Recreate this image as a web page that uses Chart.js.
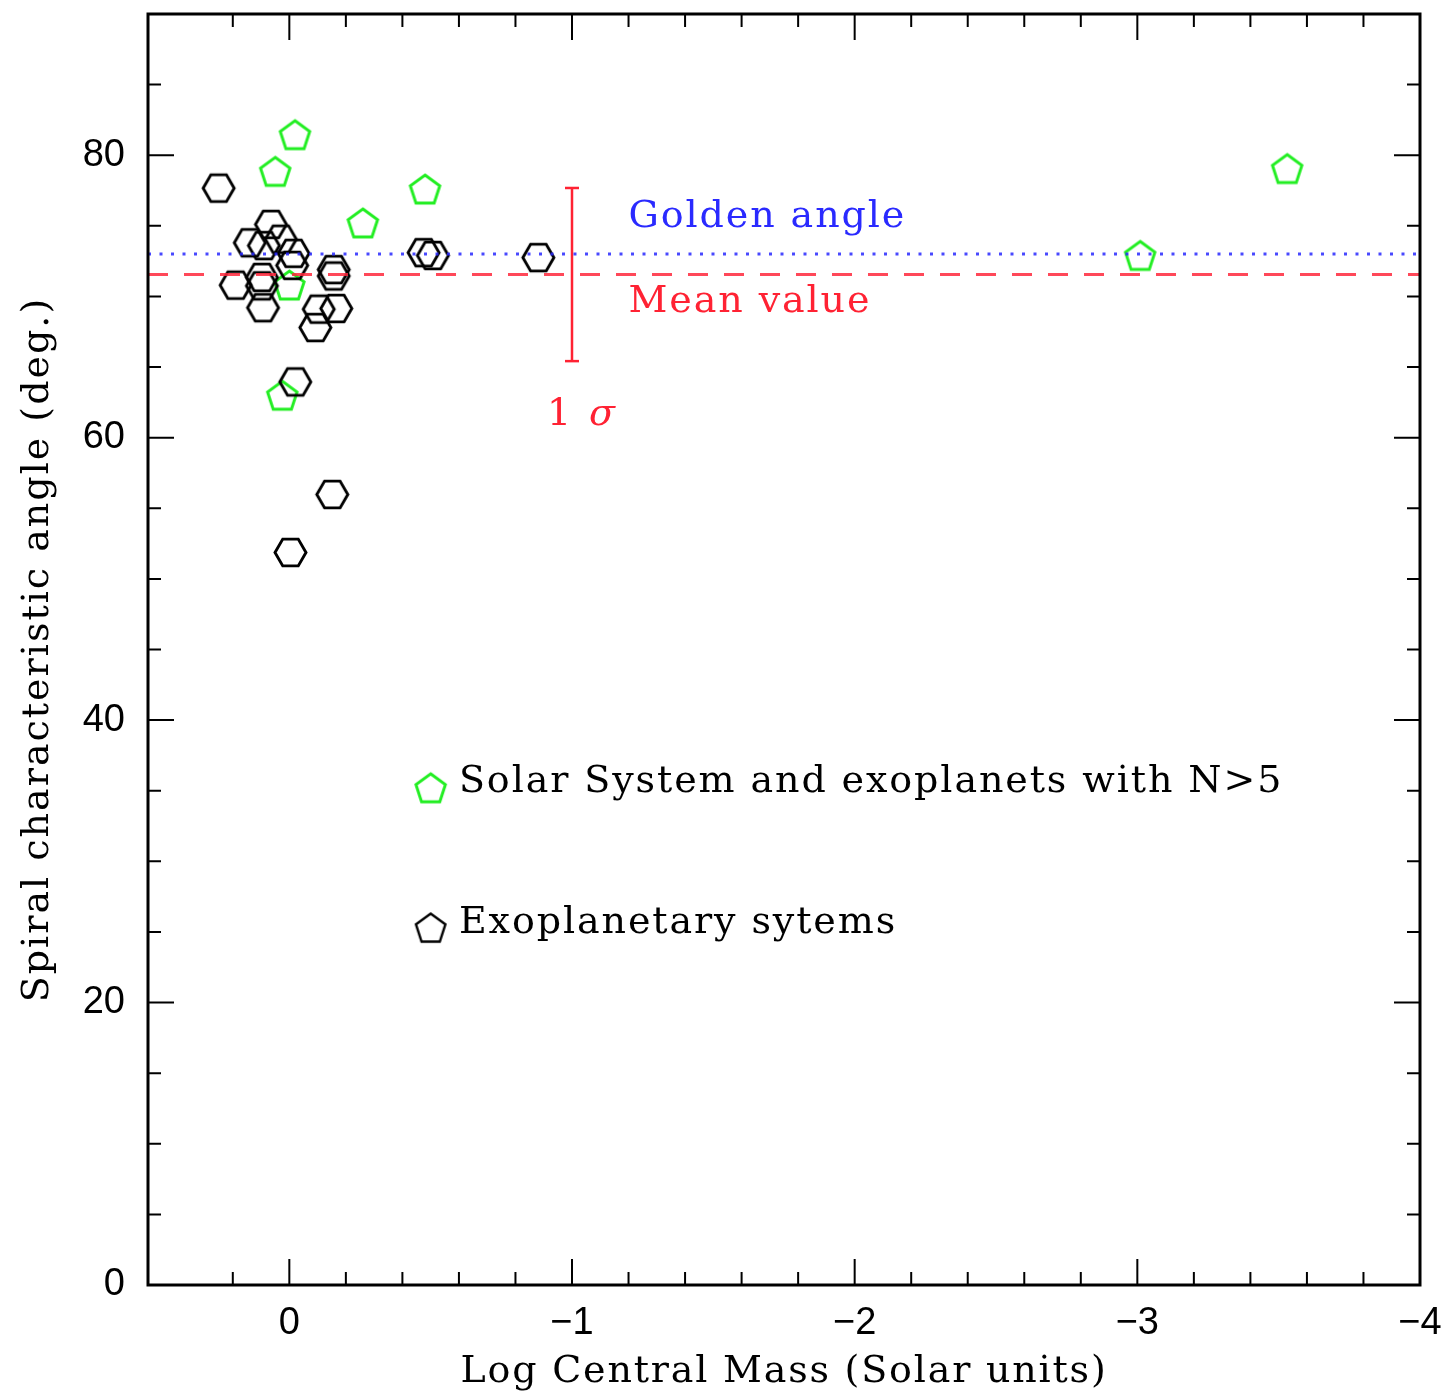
<!DOCTYPE html>
<html>
<head>
<meta charset="utf-8">
<title>Spiral characteristic angle vs central mass</title>
<script src="https://cdn.jsdelivr.net/npm/chart.js@4.4.1/dist/chart.umd.min.js"></script>
<style>
  html, body { margin: 0; padding: 0; background: #fff; }
</style>
</head>
<body>
<canvas id="spiralChart" width="1452" height="1398"></canvas>
<script>
// values (log central mass, spiral angle in degrees)
const solarX = [-0.02, 0.05, -0.48, -0.26, 0.0, 0.025, -3.01, -3.53];
const solarY = [81.35, 78.75, 77.5, 75.1, 70.7, 62.9, 72.8, 78.95];

const exoX = [0.25, 0.065, 0.14, 0.09, 0.03, -0.015, -0.01, -0.157, -0.157, 0.19, 0.097, 0.097,
  0.093, -0.104, -0.166, -0.092, -0.021, -0.475, -0.508, -0.881, -0.152, -0.004];
const exoY = [77.67, 75.1, 73.8, 73.6, 74.05, 73.05, 72.2, 71.9, 71.45, 70.8, 71.35, 70.75,
  69.2, 69.1, 69.15, 67.8, 63.95, 73.1, 72.9, 72.75, 55.98, 51.87];

const goldenAngle = 73.0;
const meanAngle = 71.55;
const sigmaAngle = 6.13;
const sigmaX = -1;

const keyX = [-0.5, -0.5];
const keyY = [35.1, 25.2];

const xRange = [-4, 0.5];
const yRange = [0, 90];
const xMajorTicks = [0, -1, -2, -3, -4];
const yMajorTicks = [0, 20, 40, 60, 80];

const xTitle = 'Log Central Mass (Solar units)';
const yTitle = 'Spiral characteristic angle (deg.)';

const serif = '"DejaVu Serif", "Liberation Serif", serif';
const sans = '"Liberation Sans", Arial, sans-serif';

function makeMarker(sides, radius, color, lw, rot) {
  const size = Math.ceil(radius * 2 + lw * 2 + 2);
  const c = document.createElement('canvas');
  c.width = size; c.height = size;
  const g = c.getContext('2d');
  g.strokeStyle = color; g.lineWidth = lw; g.lineJoin = 'miter';
  g.beginPath();
  for (let i = 0; i < sides; i++) {
    const a = rot + i * 2 * Math.PI / sides;
    const px = size / 2 + radius * Math.cos(a), py = size / 2 + radius * Math.sin(a);
    if (i) g.lineTo(px, py); else g.moveTo(px, py);
  }
  g.closePath(); g.stroke();
  return c;
}

const hexMark = makeMarker(6, 15.5, '#000', 2.9, 0);
const pentGreen = makeMarker(5, 15.5, '#22ee22', 2.9, -Math.PI / 2);
const pentBlack = makeMarker(5, 15.5, '#000', 2.4, -Math.PI / 2);

const toPts = (xs, ys) => xs.map((x, i) => ({ x, y: ys[i] }));

// text placed on the plot, in data coordinates
const notes = [
  { text: 'Golden angle', x: -1.2, y: 75.85, color: '#2a2aff' },
  { text: 'Mean value', x: -1.2, y: 69.8, color: '#ff2233' },
  { text: 'Solar System and exoplanets with N>5', x: -0.6, y: 35.85, color: '#000' },
  { text: 'Exoplanetary sytems', x: -0.6, y: 25.85, color: '#000' }
];

const isMajor = (v, list) => list.some(t => Math.abs(t - v) < 1e-6);
const fmt = v => (v < 0 ? '\u2212' + Math.abs(v) : String(v));

const frameTicks = {
  id: 'frameTicks',
  afterDatasetsDraw(chart) {
    const { ctx, chartArea: a, scales: { x, y } } = chart;
    ctx.save();
    ctx.strokeStyle = '#000';
    ctx.lineWidth = 2;
    ctx.beginPath();
    x.ticks.forEach(t => {
      if (Math.abs(t.value * 5 - Math.round(t.value * 5)) > 1e-6) return;
      const px = x.getPixelForValue(t.value);
      const len = isMajor(t.value, xMajorTicks) ? 26 : 13;
      ctx.moveTo(px, a.bottom); ctx.lineTo(px, a.bottom - len);
      ctx.moveTo(px, a.top); ctx.lineTo(px, a.top + len);
    });
    y.ticks.forEach(t => {
      const py = y.getPixelForValue(t.value);
      const len = isMajor(t.value, yMajorTicks) ? 26 : 13;
      ctx.moveTo(a.left, py); ctx.lineTo(a.left + len, py);
      ctx.moveTo(a.right, py); ctx.lineTo(a.right - len, py);
    });
    ctx.stroke();
    ctx.lineWidth = 3;
    ctx.strokeRect(a.left, a.top, a.right - a.left, a.bottom - a.top);

    // annotations
    ctx.textBaseline = 'middle';
    ctx.textAlign = 'left';
    ctx.letterSpacing = '1.9px';
    ctx.font = '38px ' + serif;
    notes.forEach(n => {
      ctx.fillStyle = n.color;
      ctx.fillText(n.text, x.getPixelForValue(n.x), y.getPixelForValue(n.y) + 3);
    });
    const sx = x.getPixelForValue(sigmaX);
    const sy = y.getPixelForValue(meanAngle - sigmaAngle) + 54;
    ctx.fillStyle = '#ff2233';
    ctx.fillText('1', sx - 25, sy);
    ctx.font = 'italic 38px ' + serif;
    ctx.fillText('\u03c3', sx + 17, sy);

    // axis titles
    ctx.fillStyle = '#000';
    ctx.font = '38px ' + serif;
    ctx.letterSpacing = '1.8px';
    ctx.textAlign = 'center';
    ctx.fillText(xTitle, (a.left + a.right) / 2, a.bottom + 87);
    ctx.translate(a.left - 110, (a.top + a.bottom) / 2);
    ctx.rotate(-Math.PI / 2);
    ctx.letterSpacing = '2px';
    ctx.fillText(yTitle, 0, 0);
    ctx.restore();
  }
};

new Chart(document.getElementById('spiralChart'), {
  type: 'scatter',
  data: {
    datasets: [
      { label: 'Golden angle', data: [{ x: xRange[1], y: goldenAngle }, { x: xRange[0], y: goldenAngle }],
        showLine: true, pointRadius: 0, borderColor: 'rgba(40,40,255,0.85)', borderWidth: 3, borderDash: [3, 8.5] },
      { label: 'Mean value', data: [{ x: xRange[1], y: meanAngle }, { x: xRange[0], y: meanAngle }],
        showLine: true, pointRadius: 0, borderColor: 'rgba(255,40,60,0.85)', borderWidth: 3, borderDash: [20, 16] },
      { label: '1 sigma', data: [{ x: sigmaX, y: meanAngle - sigmaAngle }, { x: sigmaX, y: meanAngle + sigmaAngle }],
        showLine: true, borderColor: '#ff2233', borderWidth: 2.5, pointStyle: 'line', pointRadius: 7,
        pointBorderWidth: 2.5, pointBorderColor: '#ff2233' },
      { label: 'Exoplanetary sytems', data: toPts(exoX, exoY), pointStyle: hexMark },
      { label: 'Solar System and exoplanets with N>5', data: toPts(solarX, solarY), pointStyle: pentGreen },
      { label: 'key green', data: [{ x: keyX[0], y: keyY[0] }], pointStyle: pentGreen },
      { label: 'key black', data: [{ x: keyX[1], y: keyY[1] }], pointStyle: pentBlack }
    ]
  },
  options: {
    responsive: false,
    animation: false,
    devicePixelRatio: 1,
    layout: { padding: { top: 14, right: 32, left: 0, bottom: 0 } },
    plugins: { legend: { display: false }, tooltip: { enabled: false } },
    scales: {
      x: {
        type: 'linear', min: xRange[0], max: xRange[1], reverse: true,
        grid: { display: false, drawTicks: false }, border: { display: false },
        ticks: {
          stepSize: 0.2, autoSkip: false, maxRotation: 0, padding: 16, color: '#000',
          font: { family: sans, size: 38 },
          callback: v => (isMajor(v, xMajorTicks) ? fmt(Math.round(v)) : '')
        },
        afterFit(s) { s.height = 113; s.paddingLeft = 0; s.paddingRight = 0; }
      },
      y: {
        type: 'linear', min: yRange[0], max: yRange[1],
        grid: { display: false, drawTicks: false }, border: { display: false },
        ticks: {
          stepSize: 5, autoSkip: false, padding: 23, color: '#000',
          font: { family: sans, size: 38 },
          callback: v => (isMajor(v, yMajorTicks) ? fmt(v) : '')
        },
        afterFit(s) { s.width = 148; s.paddingTop = 0; s.paddingBottom = 0; }
      }
    }
  },
  plugins: [frameTicks]
});
</script>
</body>
</html>
